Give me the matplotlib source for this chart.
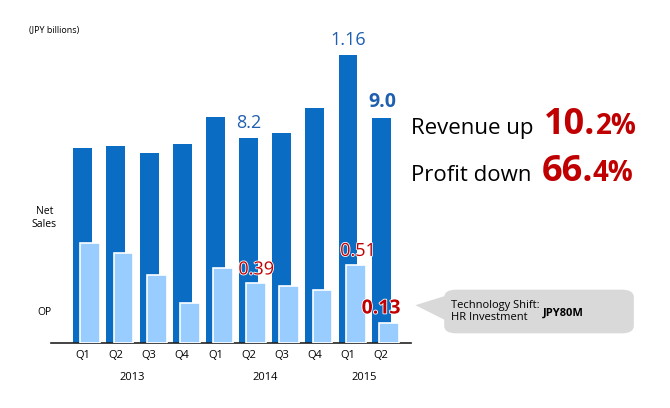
import matplotlib
matplotlib.use("Agg")
import matplotlib.pyplot as plt
from matplotlib.patches import FancyBboxPatch, Polygon
import matplotlib.patheffects as pe

plt.rcParams['font.family'] = ['Open Sans', 'DejaVu Sans']

quarters = ['Q1', 'Q2', 'Q3', 'Q4', 'Q1', 'Q2', 'Q3', 'Q4', 'Q1', 'Q2']
years = ['2013', '2014', '2015']
year_pos = [1.5, 5.5, 8.5]
net_sales = [7.8, 7.9, 7.6, 7.96, 9.05, 8.2, 8.4, 9.4, 11.5, 9.0]
op = [0.65, 0.585, 0.44, 0.26, 0.49, 0.39, 0.37, 0.345, 0.51, 0.13]

dark = '#0a6cc2'
light = '#99ccff'
red = '#c00000'

fig = plt.figure(figsize=(6.7, 4.08), dpi=100)
ax = fig.add_axes([0.076, 0.159, 0.537, 0.743])
ax2 = ax.twinx()

x = list(range(len(quarters)))
ax.bar(x, net_sales, width=0.57, color=dark, zorder=1)
ax2.bar([i + 0.23 for i in x], op, width=0.6, color=light,
        edgecolor='white', linewidth=1.2, zorder=2)

ax.set_xlim(-0.96, 9.89)
ax.set_ylim(0, 12.12)
ax2.set_ylim(0, 1.967)
for a in (ax, ax2):
    for s in ('top', 'right', 'left'):
        a.spines[s].set_visible(False)
    a.set_yticks([])
ax2.spines['bottom'].set_visible(False)
ax.spines['bottom'].set_color('#222222')
ax.spines['bottom'].set_linewidth(1.2)
ax.set_xticks(x)
ax.set_xticklabels(quarters, fontsize=8)
ax.tick_params(axis='x', length=0, pad=5)

for yr, p in zip(years, year_pos):
    ax.text(p, -0.115, yr, transform=ax.get_xaxis_transform(),
            ha='center', va='center', fontsize=8)

# bar value labels
ax.text(5, net_sales[5] + 0.25, '8.2', ha='center', va='bottom', fontsize=13, color='#1f5fb0')
ax.text(8, net_sales[8] + 0.25, '1.16', ha='center', va='bottom', fontsize=13, color='#1f5fb0')
ax.text(9.05, net_sales[9] + 0.25, '9.0', ha='center', va='bottom', fontsize=14,
        color='#1f5fb0', fontweight='bold')

stroke = [pe.withStroke(linewidth=1.2, foreground='white')]
ax2.text(5.23, op[5] + 0.03, '0.39', ha='center', va='bottom', fontsize=13,
         color=red, path_effects=stroke)
ax2.text(8.3, op[8] + 0.03, '0.51', ha='center', va='bottom', fontsize=13,
         color=red, path_effects=stroke)
ax2.text(9.0, op[9] + 0.03, '0.13', ha='center', va='bottom', fontsize=14,
         color=red, fontweight='bold', path_effects=stroke)

# side texts
fig.text(0.043, 0.925, '(JPY billions)', fontsize=6.5, ha='left', va='center')
fig.text(0.066, 0.465, 'Net\nSales', fontsize=7.5, ha='center', va='center', linespacing=1.2)
fig.text(0.066, 0.233, 'OP', fontsize=7.5, ha='center', va='center')

renderer = fig.canvas.get_renderer()


def run_text(x0, y0, parts):
    # place text pieces one after another on a shared baseline
    xpos = x0
    for s, size, color, weight in parts:
        t = fig.text(xpos, y0, s, fontsize=size, ha='left', va='baseline',
                     color=color, fontweight=weight)
        bb = t.get_window_extent(renderer=renderer)
        xpos = bb.x1 / fig.bbox.width


fig.text(0.613, 0.672, 'Revenue up', fontsize=16, ha='left', va='baseline')
run_text(0.812, 0.672, [('10.', 26, red, 'bold'), ('2%', 20, red, 'bold')])
fig.text(0.613, 0.557, 'Profit down', fontsize=16, ha='left', va='baseline')
run_text(0.808, 0.557, [('66.', 26, red, 'bold'), ('4%', 20, red, 'bold')])

# callout box
box = FancyBboxPatch((0.663, 0.183), 0.283, 0.107, boxstyle='round,pad=0,rounding_size=0.018',
                     transform=fig.transFigure, facecolor='#d9d9d9', edgecolor='none')
fig.patches.append(box)
tri = Polygon([(0.620, 0.252), (0.665, 0.275), (0.665, 0.215)], closed=True,
              transform=fig.transFigure, facecolor='#d9d9d9', edgecolor='none')
fig.patches.append(tri)
fig.text(0.673, 0.236, 'Technology Shift:\nHR Investment', fontsize=8, ha='left',
         va='center', linespacing=1.15)
fig.text(0.840, 0.232, 'JPY80M', fontsize=8, ha='center', va='center', fontweight='bold')

fig.savefig('out.png', dpi=100)
